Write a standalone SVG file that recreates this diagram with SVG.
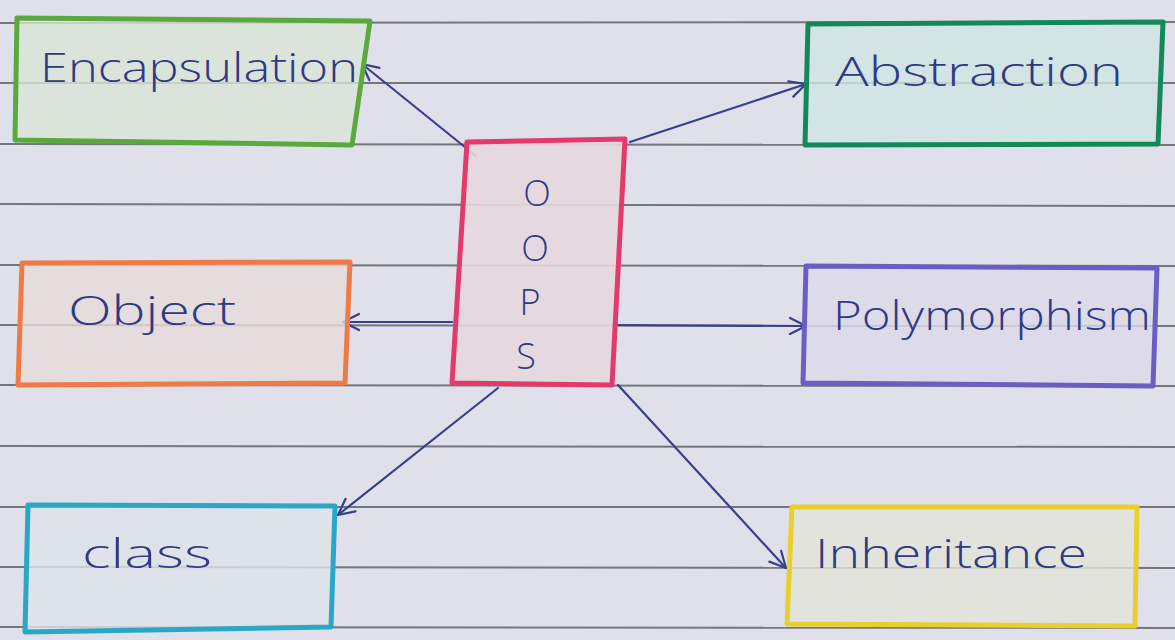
<svg xmlns="http://www.w3.org/2000/svg" width="1175" height="640" viewBox="0 0 1175 640">
<style>
.rule{stroke:#75767c;stroke-width:2;fill:none}
.box{stroke-width:5;stroke-linejoin:round}
.lbl{font-family:"Open Sans","DejaVu Sans","Liberation Sans",sans-serif;font-size:40px;fill:#2f3a82;font-weight:300}
.ltr{font-family:"Open Sans","DejaVu Sans","Liberation Sans",sans-serif;font-size:36px;fill:#2f3a82;font-weight:300;text-anchor:middle}
.con{stroke:#38408a;stroke-width:2.2;fill:none;stroke-linecap:round}
</style>
<defs>
<marker id="ah" viewBox="0 0 20 20" refX="18" refY="10" markerWidth="20" markerHeight="20" markerUnits="userSpaceOnUse" orient="auto">
<path d="M2,2 L18,10 L2,18" fill="none" stroke="#38408a" stroke-width="2.2" stroke-linecap="round" stroke-linejoin="round"/>
</marker>
</defs>
<rect x="0" y="0" width="1175" height="640" fill="#dfe0e9"/>
<g id="paper-lines">
<line class="rule" x1="0" y1="23" x2="1175" y2="22"/>
<line class="rule" x1="0" y1="83" x2="1175" y2="83"/>
<line class="rule" x1="0" y1="144" x2="1175" y2="145"/>
<line class="rule" x1="0" y1="204" x2="1175" y2="206"/>
<line class="rule" x1="0" y1="265" x2="1175" y2="266"/>
<line class="rule" x1="0" y1="325" x2="1175" y2="326"/>
<line class="rule" x1="0" y1="385" x2="1175" y2="386"/>
<line class="rule" x1="0" y1="446" x2="1175" y2="447"/>
<line class="rule" x1="0" y1="507" x2="1175" y2="507"/>
<line class="rule" x1="0" y1="567" x2="1175" y2="568"/>
<line class="rule" x1="0" y1="627" x2="1175" y2="628"/>
</g>
<g id="connectors">
<line class="con" x1="476" y1="156" x2="362" y2="64" marker-end="url(#ah)"/>
<line class="con" x1="630" y1="142" x2="806" y2="84" marker-end="url(#ah)"/>
<line class="con" x1="452" y1="322" x2="343" y2="322" marker-end="url(#ah)"/>
<line class="con" x1="612" y1="325" x2="806" y2="326" marker-end="url(#ah)"/>
<line class="con" x1="498" y1="388" x2="338" y2="515" marker-end="url(#ah)"/>
<line class="con" x1="618" y1="385" x2="786" y2="568" marker-end="url(#ah)"/>
</g>
<g id="encapsulation">
<polygon class="box" points="17,18 370,21 352,145 15,140" fill="#d9e5d6" fill-opacity="0.8" stroke="#5aa83e"/>
<text class="lbl" x="40" y="82" textLength="318" lengthAdjust="spacingAndGlyphs">Encapsulation</text>
</g>
<g id="abstraction">
<polygon class="box" points="808,24 1163,22 1158,144 805,145" fill="#cfe5e2" fill-opacity="0.8" stroke="#15885a"/>
<text class="lbl" x="835" y="86" textLength="288" lengthAdjust="spacingAndGlyphs">Abstraction</text>
</g>
<g id="oops">
<polygon class="box" points="467,142 625,139 612,385 452,383" fill="#e6d8de" fill-opacity="0.9" stroke="#e23a6a"/>
<text class="ltr" x="537" y="206">O</text>
<text class="ltr" x="535" y="261">O</text>
<text class="ltr" x="530" y="315">P</text>
<text class="ltr" x="526" y="369">S</text>
</g>
<g id="object">
<polygon class="box" points="22,263 350,262 345,383 18,385" fill="#e6dcda" fill-opacity="0.8" stroke="#ee7a48"/>
<text class="lbl" x="68" y="325" textLength="168" lengthAdjust="spacingAndGlyphs">Object</text>
</g>
<g id="polymorphism">
<polygon class="box" points="806,266 1157,268 1153,386 803,383" fill="#dcdaea" fill-opacity="0.8" stroke="#6a5ec2"/>
<text class="lbl" x="833" y="330" textLength="318" lengthAdjust="spacingAndGlyphs">Polymorphism</text>
</g>
<g id="class">
<polygon class="box" points="28,505 335,506 331,627 25,632" fill="#dde4ea" fill-opacity="0.8" stroke="#2aa6c6"/>
<text class="lbl" x="82" y="568" textLength="130" lengthAdjust="spacingAndGlyphs">class</text>
</g>
<g id="inheritance">
<polygon class="box" points="792,507 1137,507 1135,626 787,624" fill="#e4e3da" fill-opacity="0.8" stroke="#e8cf2e"/>
<text class="lbl" x="815" y="568" textLength="272" lengthAdjust="spacingAndGlyphs">Inheritance</text>
</g>
</svg>
